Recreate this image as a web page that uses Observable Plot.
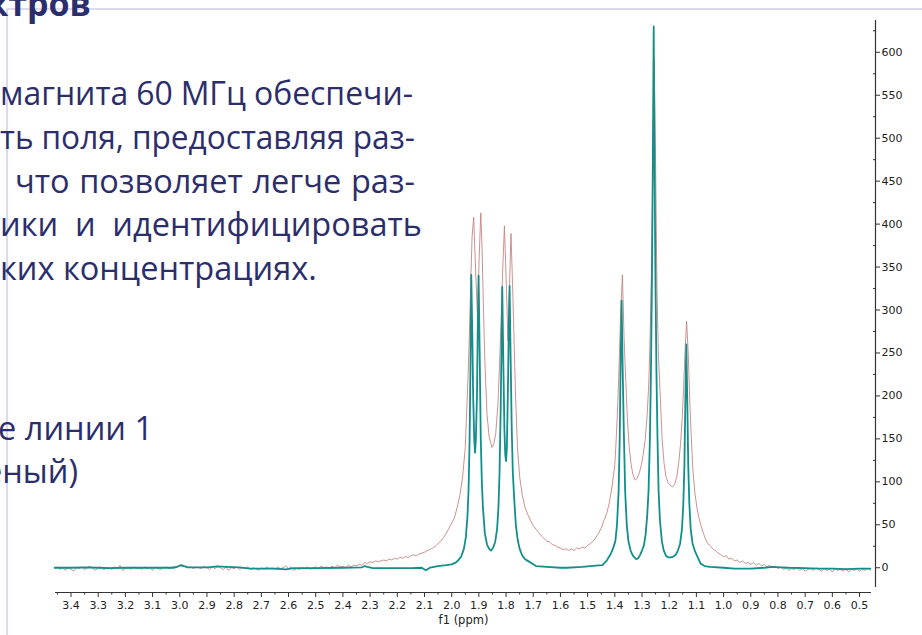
<!DOCTYPE html>
<html><head><meta charset="utf-8">
<script src="https://cdn.jsdelivr.net/npm/d3@7"></script>
<script src="https://cdn.jsdelivr.net/npm/@observablehq/plot@0.6"></script>
<style>
html,body{margin:0;padding:0;background:#fff;}
#wrap{position:relative;width:922px;height:635px;overflow:hidden;background:#fff;}
#wrap svg{position:absolute;left:0;top:0;}
.hl{position:absolute;left:7px;right:0;top:8px;height:2px;background:#dcdaee;}
.vl{position:absolute;left:6px;top:8px;bottom:0;width:2px;background:#dcdaee;}
</style></head>
<body><div id="wrap"><div class="hl"></div><div class="vl"></div></div>
<script>
// ---- page text (cropped slide text behind the chart) ----
const titleText = "спектров";
const bodyLines = [
  "магнита 60 МГц обеспечи-",
  "ть поля, предоставляя раз-",
  "что позволяет легче раз-",
  "ики и идентифицировать",
  "ких концентрациях."
];
const noteLines = ["ние линии 1", "(зеленый)"];

// ---- axis ticks ----
const xMajor = [3.4,3.3,3.2,3.1,3.0,2.9,2.8,2.7,2.6,2.5,2.4,2.3,2.2,2.1,2.0,1.9,1.8,1.7,1.6,1.5,1.4,1.3,1.2,1.1,1.0,0.9,0.8,0.7,0.6,0.5];
const xMinor = [3.45,3.35,3.25,3.15,3.05,2.95,2.85,2.75,2.65,2.55,2.45,2.35,2.25,2.15,2.05,1.95,1.85,1.75,1.65,1.55,1.45,1.35,1.25,1.15,1.05,0.95,0.85,0.75,0.65,0.55];
const yMajor = [0,50,100,150,200,250,300,350,400,450,500,550,600];
const yMinor = [25,75,125,175,225,275,325,375,425,475,525,575,625];
const xDomain = [3.457, 0.456];
const yDomain = [-23, 637];

// ---- spectrum 1 (pink, noisy) : [ppm, intensity] ----
const pinkSpectrum = [
[3.46,-1],[3.45,1],[3.44,-2],[3.43,0],[3.42,-3],[3.41,1],[3.40,-2],[3.39,-4],[3.38,0],[3.37,-1],
[3.36,1],[3.35,-2],[3.34,0],[3.33,2],[3.32,-1],[3.31,-3],[3.30,0],[3.29,1],[3.28,-2],[3.27,-1],
[3.26,0],[3.25,-2],[3.24,1],[3.23,-1],[3.22,3],[3.21,-3],[3.20,-1],[3.19,0],[3.18,-2],[3.17,1],
[3.16,-1],[3.15,0],[3.14,-2],[3.13,1],[3.12,-1],[3.11,0],[3.10,-3],[3.09,1],[3.08,-1],[3.07,-2],
[3.06,0],[3.05,1],[3.04,-1],[3.03,0],[3.02,2],[3.01,0],[3.00,3],[2.99,1],[2.98,2],[2.97,0],
[2.96,1],[2.95,-1],[2.94,1],[2.93,0],[2.92,-1],[2.91,2],[2.90,0],[2.89,-2],[2.88,1],[2.87,-1],
[2.86,2],[2.85,0],[2.84,-2],[2.83,1],[2.82,-3],[2.81,0],[2.80,-1],[2.79,1],[2.78,-2],[2.77,0],
[2.76,-1],[2.75,1],[2.74,-2],[2.73,0],[2.72,-1],[2.71,-3],[2.70,0],[2.69,-2],[2.68,1],[2.67,-1],
[2.66,0],[2.65,-2],[2.64,1],[2.63,-1],[2.62,0],[2.61,2],[2.60,-1],[2.59,1],[2.58,-3],[2.57,-1],
[2.56,-2],[2.55,0],[2.54,-1],[2.53,1],[2.52,-2],[2.51,0],[2.50,1],[2.49,-1],[2.48,2],[2.47,0],
[2.46,1],[2.45,-1],[2.44,2],[2.43,0],[2.42,3],[2.41,1],[2.40,2],[2.39,0],[2.38,3],[2.37,1],
[2.36,3],[2.35,2],[2.34,4],[2.33,3],[2.32,6],[2.31,5],[2.30,7],[2.29,6],[2.28,8],[2.27,7],
[2.26,8],[2.25,9],[2.24,8],[2.23,10],[2.22,9],[2.21,11],[2.20,10],[2.19,12],[2.18,11],[2.17,13],
[2.16,12],[2.15,14],[2.14,15],[2.13,14],[2.12,16],[2.11,17],[2.10,18],[2.09,20],[2.08,21],[2.07,23],
[2.06,25],[2.05,28],[2.04,31],[2.03,35],[2.02,40],[2.01,46],[2.00,52],[1.99,58],[1.98,70],[1.97,84],
[1.96,105],[1.95,140],[1.94,220],[1.935,270],[1.93,330],[1.925,385],[1.919,408],[1.913,355],[1.905,291],[1.899,360],
[1.893,413],[1.888,370],[1.883,300],[1.878,240],[1.870,178],[1.862,152],[1.852,140],[1.845,144],[1.838,156],[1.830,190],
[1.824,235],[1.818,290],[1.812,350],[1.806,398],[1.800,340],[1.793,264],[1.787,330],[1.782,389],[1.777,340],[1.771,270],
[1.765,200],[1.758,140],[1.750,106],[1.740,84],[1.730,70],[1.720,62],[1.710,55],[1.700,49],[1.690,45],[1.680,41],
[1.670,37],[1.660,34],[1.650,31],[1.640,30],[1.630,27],[1.620,26],[1.610,24],[1.600,23],[1.590,21],[1.580,22],
[1.570,20],[1.560,22],[1.550,20],[1.540,23],[1.530,22],[1.520,24],[1.510,23],[1.500,26],[1.490,28],[1.480,31],
[1.470,35],[1.460,40],[1.450,46],[1.440,55],[1.430,63],[1.420,76],[1.410,95],[1.400,120],[1.394,155],[1.388,200],
[1.383,250],[1.378,300],[1.372,341],[1.366,268],[1.360,220],[1.354,175],[1.347,140],[1.340,120],[1.333,108],[1.325,102],
[1.318,104],[1.310,110],[1.302,120],[1.295,133],[1.288,150],[1.281,178],[1.275,215],[1.270,270],[1.265,350],[1.260,470],
[1.255,590],[1.250,470],[1.245,325],[1.240,250],[1.233,200],[1.226,150],[1.219,122],[1.212,106],[1.204,99],[1.196,96],
[1.188,94],[1.180,97],[1.172,106],[1.165,122],[1.158,145],[1.152,175],[1.147,210],[1.142,250],[1.136,287],[1.130,250],
[1.125,200],[1.120,160],[1.113,115],[1.106,88],[1.098,70],[1.090,57],[1.082,48],[1.074,40],[1.066,33],[1.058,28],
[1.05,26],[1.04,22],[1.03,20],[1.02,17],[1.01,15],[1.00,13],[0.99,14],[0.98,10],[0.97,11],[0.96,8],
[0.95,9],[0.94,6],[0.93,8],[0.92,5],[0.91,6],[0.90,4],[0.89,6],[0.88,3],[0.87,5],[0.86,2],
[0.85,4],[0.84,1],[0.83,3],[0.82,0],[0.81,2],[0.80,-1],[0.79,1],[0.78,-2],[0.77,0],[0.76,-3],
[0.75,-1],[0.74,-2],[0.73,0],[0.72,-3],[0.71,-1],[0.70,-4],[0.69,-2],[0.68,-1],[0.67,-3],[0.66,0],
[0.65,-2],[0.64,-4],[0.63,-1],[0.62,-3],[0.61,-2],[0.60,-5],[0.59,-1],[0.58,-3],[0.57,-2],[0.56,-4],
[0.55,-1],[0.54,-5],[0.53,-2],[0.52,-3],[0.51,-1],[0.50,-4],[0.49,-2],[0.48,-3],[0.47,-1],[0.46,-3]
];

// ---- spectrum 2 (teal, clean) : [ppm, intensity] ----
const tealSpectrum = [
[3.46,0],[3.40,0],[3.35,0.5],[3.30,0],[3.26,-0.5],[3.20,0],[3.10,0],[3.02,0],[2.995,3],[2.985,2],
[2.97,0.5],[2.90,0.5],[2.86,1.5],[2.83,1],[2.78,0.5],[2.74,-1],[2.70,-1],[2.65,-1],[2.61,-2],[2.58,-0.5],
[2.50,-0.5],[2.40,0],[2.33,0.5],[2.32,2],[2.31,1],[2.29,-0.5],[2.20,-0.5],[2.15,-0.5],[2.11,0],[2.095,-3],
[2.08,0],[2.05,2],[2.02,3],[2.00,4],[1.985,6],[1.975,9],[1.965,13],[1.955,22],[1.948,35],[1.942,60],
[1.938,89],[1.934,150],[1.931,230],[1.928,341],[1.924,270],[1.921,200],[1.917,150],[1.914,134],[1.911,150],[1.907,200],
[1.904,280],[1.901,340],[1.897,250],[1.893,150],[1.889,100],[1.885,70],[1.878,40],[1.870,27],[1.862,22],[1.855,20],
[1.848,23],[1.840,30],[1.833,45],[1.828,70],[1.824,110],[1.820,180],[1.817,250],[1.814,327],[1.810,240],[1.806,160],
[1.803,132],[1.800,124],[1.797,140],[1.793,210],[1.790,280],[1.787,328],[1.783,240],[1.779,160],[1.775,110],[1.770,80],
[1.764,50],[1.757,32],[1.750,22],[1.740,14],[1.730,10],[1.720,8],[1.700,4],[1.690,2],[1.650,1],[1.600,0],
[1.576,0],[1.520,1],[1.470,2.5],[1.445,3],[1.440,5],[1.430,8],[1.423,12],[1.415,16],[1.405,24],[1.398,31],
[1.392,50],[1.386,89],[1.382,150],[1.379,230],[1.375,311],[1.371,230],[1.367,160],[1.362,89],[1.356,50],[1.350,31],
[1.342,20],[1.335,15],[1.328,12],[1.321,10],[1.314,11],[1.307,15],[1.300,20],[1.293,26],[1.287,38],[1.281,60],
[1.276,89],[1.271,150],[1.267,230],[1.263,350],[1.260,480],[1.257,630],[1.254,480],[1.251,350],[1.247,230],[1.243,150],
[1.239,89],[1.234,55],[1.227,31],[1.220,20],[1.212,14],[1.203,12],[1.195,12],[1.185,13],[1.176,15],[1.168,20],
[1.160,28],[1.153,45],[1.148,75],[1.144,120],[1.141,186],[1.137,260],[1.133,186],[1.130,120],[1.126,75],[1.121,45],
[1.114,28],[1.106,20],[1.098,14],[1.092,10],[1.085,5],[1.070,2],[1.050,1],[1.000,0],[0.960,-1],[0.900,-1],
[0.850,0],[0.820,1],[0.790,0.5],[0.760,0],[0.700,-0.5],[0.650,-1],[0.600,-1],[0.550,-1.5],[0.500,-1],[0.460,-1]
];

const W = 922, H = 635;
const wrap = document.getElementById("wrap");

// background page text
const bg = d3.select(wrap).append("svg").attr("width", W).attr("height", H)
  .style("font-family", "'Open Sans', 'Noto Sans', sans-serif").style("fill", "#2c2e6c");
bg.append("text").attr("x", 91).attr("y", 16).attr("text-anchor", "end")
  .style("font-size", "34px").style("font-weight", "700").text(titleText);
const bodyLayout = [[0, 413, 105], [0, 415, 148], [15, 415, 192], [0, 422, 236]];
const bodyG = bg.append("g").style("font-size", "32.5px");
bodyLines.forEach((str, i) => {
  const y = 105 + i * 43.75;
  if (i < bodyLayout.length) {
    const [x0, x1] = bodyLayout[i];
    const words = str.split(" ");
    const nodes = words.map(w => bodyG.append("text").attr("y", y).text(w));
    const widths = nodes.map(n => n.node().getComputedTextLength());
    let total = d3.sum(widths);
    let gap = (x1 - x0 - total) / (words.length - 1);
    let sx = 1;
    if (gap < 8) { gap = 8; sx = (x1 - x0 - gap * (words.length - 1)) / total; }
    let x = x0;
    nodes.forEach((n, j) => {
      n.attr("x", x);
      if (sx !== 1) n.attr("textLength", widths[j] * sx).attr("lengthAdjust", "spacingAndGlyphs");
      x += widths[j] * sx + gap;
    });
  } else {
    bodyG.append("text").attr("x", 0).attr("y", y).text(str);
  }
});
bodyG.append("text").attr("x", 153).attr("y", 440).attr("text-anchor", "end").text(noteLines[0]);
bodyG.append("text").attr("x", 78).attr("y", 483).attr("text-anchor", "end").text(noteLines[1]);

const chart = Plot.plot({
  width: W, height: H,
  marginTop: 20, marginBottom: 48, marginLeft: 55, marginRight: 51,
  x: {domain: xDomain},
  y: {domain: yDomain},
  style: {fontFamily: "'DejaVu Sans', Verdana, sans-serif", fontSize: "11px", color: "#222", background: "transparent", overflow: "visible"},
  marks: [
    Plot.ruleY([yDomain[0]], {dy: 5, stroke: "#333", strokeWidth: 1.2}),
    Plot.ruleX([xDomain[1]], {dx: 4, stroke: "#333", strokeWidth: 1.2}),
    Plot.axisX({ticks: xMajor, tickSize: 5, dy: 5, tickPadding: 4, tickFormat: d => d.toFixed(1), label: null, stroke: "#333"}),
    Plot.axisX({ticks: xMinor, tickSize: 2.5, dy: 5, text: null, label: null, stroke: "#333"}),
    Plot.axisY({anchor: "right", ticks: yMajor, tickSize: 4, dx: 4, tickPadding: 2, label: null, stroke: "#333"}),
    Plot.axisY({anchor: "right", ticks: yMinor, tickSize: -3, dx: 4, text: null, label: null, stroke: "#333"}),
    Plot.line(pinkSpectrum, {x: d => d[0], y: d => d[1], stroke: "#c27f7d", strokeWidth: 1, strokeOpacity: 0.85}),
    Plot.line(tealSpectrum, {x: d => d[0], y: d => d[1], stroke: "#138e8b", strokeWidth: 1.8}),
    Plot.text(["f1 (ppm)"], {frameAnchor: "bottom", dy: 36, fill: "#222", fontSize: 11.5})
  ]
});
wrap.appendChild(chart);
</script></body></html>
